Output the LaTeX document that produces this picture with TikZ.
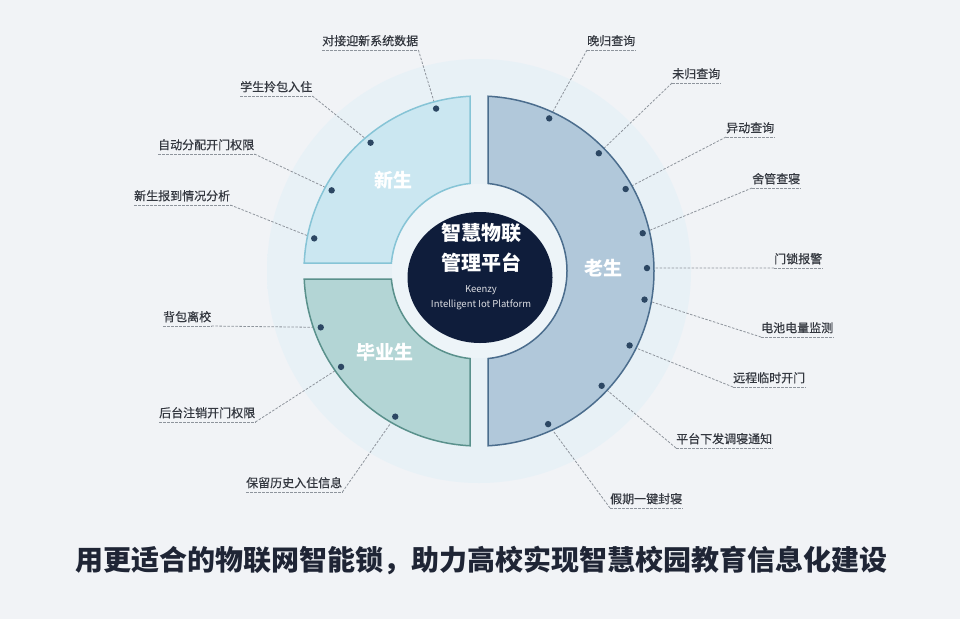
\documentclass[tikz,border=0pt]{standalone}
\usepackage{fontspec}
\setmainfont{Noto Sans CJK SC}
\newfontfamily\lblfont{Noto Sans CJK SC}[FakeBold=0.35]
\usetikzlibrary{calc}
\definecolor{bg}{HTML}{F1F3F6}
\definecolor{glowin}{HTML}{E8F1F6}
\definecolor{glowmid}{HTML}{DFEBF2}
\definecolor{halo}{HTML}{EDF4F8}
\definecolor{xinfill}{HTML}{CBE7F1}
\definecolor{xindraw}{HTML}{86C4D6}
\definecolor{byefill}{HTML}{B3D5D5}
\definecolor{byedraw}{HTML}{5A918C}
\definecolor{laofill}{HTML}{B1C8DA}
\definecolor{laodraw}{HTML}{4B6D8D}
\definecolor{darkc}{HTML}{0F1D3B}
\definecolor{dotc}{HTML}{2C4763}
\definecolor{labelc}{HTML}{33373F}
\definecolor{dashc}{HTML}{8E949C}
\definecolor{titlec}{HTML}{1F2535}
\pgfdeclareradialshading{glow}{\pgfpoint{0bp}{0bp}}{color(0bp)=(glowin); color(25bp)=(glowin); color(40bp)=(glowmid); color(42bp)=(glowmid); color(50bp)=(bg)}
\tikzset{
  lbl/.style={font=\lblfont\fontsize{12}{12}\selectfont, text=labelc, inner xsep=0pt, inner ysep=2.5pt, text height=10pt, text depth=2pt},
  lbll/.style={lbl, anchor=south west},
  dashln/.style={draw=dashc, line width=0.8pt, dash pattern=on 2.5pt off 1.5pt},
  segname/.style={font=\bfseries\fontsize{19}{19}\selectfont, text=white},
  dotmark/.style={fill=dotc},
  xinseg/.style={fill=xinfill, draw=xindraw, line width=1.5pt},
  byeseg/.style={fill=byefill, draw=byedraw, line width=1.5pt},
  laoseg/.style={fill=laofill, draw=laodraw, line width=1.5pt}
}
\begin{document}
\begin{tikzpicture}[x=1pt,y=-1pt]
\useasboundingbox (0,0) rectangle (960,619);
\fill[bg] (0,0) rectangle (960,619);
\shade[shading=glow] (479,271) circle[radius=212];
\fill[halo] (479,271) circle[radius=87];

% dot coordinates on the ring
\begin{scope}[shift={(479,271)}]
\foreach \n/\a in {d1/255.2, d2/229.8, d3/208.7, d4/191.2, d5/160.4, d6/145.2, d7/119.9,
  d8/-65.3, d9/-44.5, d10/-29.2, d11/-13.0, d12/-1.0, d13/9.8, d14/26.3, d15/43.1, d16/65.7}
  \coordinate (\n) at (\a:168);
\end{scope}

% labels
\node[lbll] (l1) at (322,50) {对接迎新系统数据};
\node[lbll] (l2) at (240,96) {学生拎包入住};
\node[lbll] (l3) at (158,154) {自动分配开门权限};
\node[lbll] (l4) at (134,205) {新生报到情况分析};
\node[lbll] (l5) at (163,326) {背包离校};
\node[lbll] (l6) at (159,422) {后台注销开门权限};
\node[lbll] (l7) at (246,492) {保留历史入住信息};
\node[lbll] (l8) at (587,50) {晚归查询};
\node[lbll] (l9) at (672,83) {未归查询};
\node[lbll] (l10) at (726,137) {异动查询};
\node[lbll] (l11) at (752,188) {舍管查寝};
\node[lbll] (l12) at (774,268) {门锁报警};
\node[lbll] (l13) at (761,337) {电池电量监测};
\node[lbll] (l14) at (733,387) {远程临时开门};
\node[lbll] (l15) at (676,448) {平台下发调寝通知};
\node[lbll] (l16) at (610,508) {假期一键封寝};

% underlines and leaders
\foreach \i in {1,...,16} \draw[dashln] (l\i.south west) -- (l\i.south east);
\foreach \i in {1,...,7} \draw[dashln] (l\i.south east) -- (d\i);
\foreach \i in {8,...,16} \draw[dashln] (l\i.south west) -- (d\i);

% segments
\def\Ro{175}
\def\Ri{88}
\begin{scope}[shift={(479,271)}]
\path[xinseg] ({270-asin(9/\Ro)}:\Ro) -- ({270-asin(9/\Ri)}:\Ri)
  arc[start angle={270-asin(9/\Ri)}, end angle={180+asin(8/\Ri)}, radius=\Ri]
  -- ({180+asin(8/\Ro)}:\Ro)
  arc[start angle={180+asin(8/\Ro)}, end angle={270-asin(9/\Ro)}, radius=\Ro] -- cycle;
\path[byeseg] ({180-asin(8/\Ro)}:\Ro) -- ({180-asin(8/\Ri)}:\Ri)
  arc[start angle={180-asin(8/\Ri)}, end angle={90+asin(9/\Ri)}, radius=\Ri]
  -- ({90+asin(9/\Ro)}:\Ro)
  arc[start angle={90+asin(9/\Ro)}, end angle={180-asin(8/\Ro)}, radius=\Ro] -- cycle;
\path[laoseg] ({-90+asin(9/\Ro)}:\Ro) -- ({-90+asin(9/\Ri)}:\Ri)
  arc[start angle={-90+asin(9/\Ri)}, end angle={90-asin(9/\Ri)}, radius=\Ri]
  -- ({90-asin(9/\Ro)}:\Ro)
  arc[start angle={90-asin(9/\Ro)}, end angle={-90+asin(9/\Ro)}, radius=\Ro] -- cycle;
\end{scope}

% dots
\foreach \i in {1,...,16} \fill[dotmark] (d\i) circle[radius=3.2];

% segment names
\node[segname] (sx) at (393,180) {新生};
\node[segname] (sl) at (603,268) {老生};
\node[segname] (sb) at (385,352) {毕业生};

% center
\fill[darkc] (480,277.5) ellipse[x radius=72.5, y radius=65.5];
\node[font=\bfseries\fontsize{20}{20}\selectfont, text=white] (c1) at (481,233) {智慧物联};
\node[font=\bfseries\fontsize{20}{20}\selectfont, text=white] (c2) at (481,263) {管理平台};
\node[font=\fontsize{9.5}{9.5}\selectfont, text=white!85!darkc] (c3) at (481,290) {Keenzy};
\node[font=\fontsize{9.5}{9.5}\selectfont, text=white!85!darkc] (c4) at (481,305) {Intelligent Iot Platform};

% title
\node[font=\bfseries\fontsize{28}{28}\selectfont, text=titlec] (t) at (481,560) {用更适合的物联网智能锁，助力高校实现智慧校园教育信息化建设};
\end{tikzpicture}
\end{document}
